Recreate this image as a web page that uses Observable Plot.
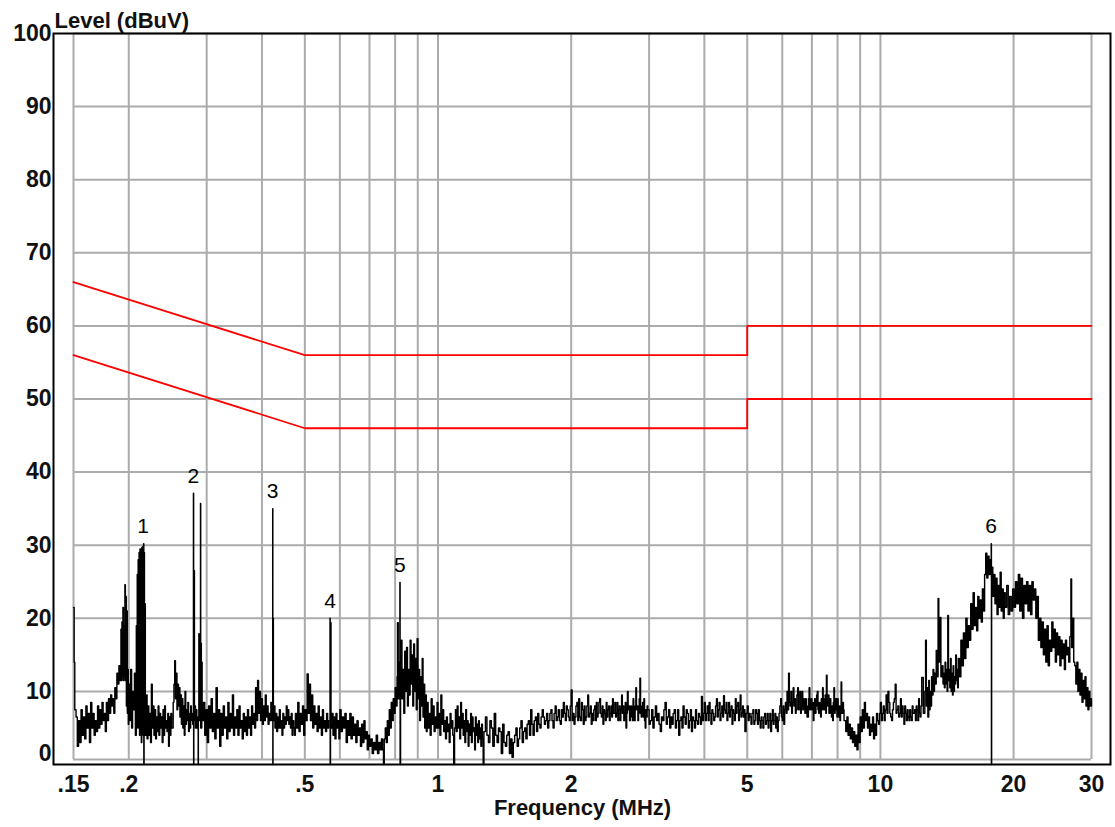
<!DOCTYPE html>
<html>
<head>
<meta charset="utf-8">
<script src="https://cdn.jsdelivr.net/npm/d3@7"></script>
<script src="https://cdn.jsdelivr.net/npm/@observablehq/plot@0.6"></script>
<style>
  html, body { margin: 0; padding: 0; background: #fff; overflow: hidden; }
  #chart { width: 1115px; height: 827px; }
</style>
</head>
<body>
<div id="chart"></div>
<script>
// ---- data ----
const yTitle = "Level (dBuV)";
const xTitle = "Frequency (MHz)";

const xTicks = [0.15, 0.2, 0.5, 1, 2, 5, 10, 20, 30];
const xTickLabels = [".15", ".2", ".5", "1", "2", "5", "10", "20", "30"];
const yTicks = [10, 20, 30, 40, 50, 60, 70, 80, 90, 100];
const yZeroTick = [0];
const gridFreqs = [0.15, 0.2, 0.3, 0.4, 0.5, 0.6, 0.7, 0.8, 0.9, 1, 2, 3, 4, 5, 6, 7, 8, 9, 10, 20, 30];
const gridLevels = [10, 20, 30, 40, 50, 60, 70, 80, 90, 100];
const gridFloor = 0.7;

// limit lines (quasi-peak and average)
const limitFreq = [0.15, 0.5, 5, 5, 30];
const qpLimit = [66, 56, 56, 60, 60];
const avLimit = [56, 46, 46, 50, 50];

// markers
const markerLabel = ["1", "2", "3", "4", "5", "6"];
const markerFreq = [0.2155, 0.2800, 0.4230, 0.5705, 0.8200, 17.80];
const markerLevel = [30.2, 37.1, 35.0, 20.0, 24.9, 30.2];

// measured trace [MHz, dBuV]
const trace = [
[0.1500,21.5],[0.1505,14],[0.1510,7.5],[0.1520,6.5],[0.1530,2.5],[0.1540,6],[0.1550,3],[0.1560,7.5],[0.1570,4],[0.1580,6.5],
[0.1590,3.5],[0.1600,8],[0.1610,5],[0.1620,7],[0.1630,3],[0.1640,8.5],[0.1650,5],[0.1660,7],[0.1670,4],[0.1680,6],
[0.1690,4.5],[0.1700,8],[0.1710,5],[0.1720,7.5],[0.1730,5.5],[0.1740,8.5],[0.1750,6],[0.1760,7],[0.1770,4.5],[0.1780,8.5],
[0.1790,6],[0.1800,9],[0.1810,7],[0.1820,9.5],[0.1830,8],[0.1840,9],[0.1850,7],[0.1860,10.5],[0.1870,9],[0.1880,12.5],
[0.1890,11],[0.1900,13.5],[0.1910,11.5],[0.1920,18.5],[0.1925,11.5],[0.1930,19.5],[0.1935,12],[0.1940,21.5],[0.1945,11.5],[0.1950,19],
[0.1955,12],[0.1960,24.6],[0.1965,11.5],[0.1970,23],[0.1975,8],[0.1980,21],[0.1985,7],[0.1990,13],[0.1995,5.5],
[0.2000,11],[0.2010,6],[0.2020,13],[0.2030,5],[0.2040,10],[0.2050,7.5],[0.2060,12.5],[0.2070,4],
[0.2080,19],[0.2085,6],[0.2090,26],[0.2095,5],[0.2100,28],[0.2105,8],[0.2110,29],[0.2115,4],[0.2120,29.5],[0.2125,9],
[0.2130,29.3],[0.2135,3],[0.2140,29.7],[0.2145,7],[0.2150,29.8],[0.2155,4],[0.2160,30.2],[0.2163,0],[0.2166,29],[0.2170,5],
[0.2175,22],[0.2180,4],[0.2190,9.5],[0.2200,3.5],[0.2210,8],[0.2220,4],[0.2230,7],[0.2240,3],[0.2250,11],[0.2260,5],
[0.2270,8],[0.2280,4],[0.2290,7.5],[0.2300,3.5],[0.2310,6.5],[0.2320,4.5],[0.2330,8],[0.2340,4],[0.2350,7],[0.2360,5],
[0.2370,6.5],[0.2380,3],[0.2390,7.5],[0.2400,4],[0.2410,8],[0.2420,5],[0.2430,6],[0.2440,4.5],[0.2450,7],[0.2460,2.5],
[0.2470,6.5],[0.2480,4],[0.2490,7],[0.2500,5],[0.2520,8.5],[0.2530,11],[0.2540,14.2],[0.2550,9],[0.2560,12.5],[0.2570,7.5],
[0.2580,11],[0.2590,8],[0.2600,10.5],[0.2610,6.5],[0.2620,9.5],[0.2630,5.5],[0.2640,9],[0.2650,5],[0.2660,8],[0.2670,4],
[0.2680,10],[0.2690,5.5],[0.2700,7.5],[0.2710,6],[0.2720,8.5],[0.2730,4.5],[0.2740,7],[0.2750,5],[0.2760,8],[0.2770,6],
[0.2780,7],[0.2790,5.5],[0.2800,37.1],[0.2803,0],[0.2806,7],[0.2810,26.5],[0.2815,6],[0.2820,8],[0.2830,5],[0.2840,7.5],
[0.2850,5],[0.2860,6.5],[0.2870,0],[0.2873,6],[0.2880,17.9],[0.2885,6],[0.2890,12],[0.2905,35.7],[0.2908,5],[0.2912,16.6],
[0.2918,5],[0.2925,14],[0.2930,6],[0.2950,8.5],[0.2970,4],[0.2990,7.5],[0.3010,3],[0.3030,8],[0.3050,5],[0.3070,9],
[0.3090,4.5],[0.3110,7],[0.3130,3.5],[0.3150,10.5],[0.3170,5],[0.3190,7.5],[0.3210,2.5],[0.3230,7],[0.3250,4],[0.3270,8],
[0.3290,5],[0.3310,6.5],[0.3330,3.5],[0.3350,8.5],[0.3370,4.5],[0.3390,7],[0.3410,5],[0.3430,9.5],[0.3450,4],[0.3470,6.5],
[0.3490,5],[0.3510,7.5],[0.3530,4],[0.3550,8],[0.3570,5],[0.3590,6],[0.3610,3.5],[0.3630,7],[0.3650,4.5],[0.3670,6.5],
[0.3690,4],[0.3710,7.5],[0.3730,5],[0.3750,6.5],[0.3770,4],[0.3790,8],[0.3810,5.5],[0.3830,7],[0.3850,5],[0.3870,10.5],
[0.3890,6],[0.3910,11.5],[0.3930,7],[0.3950,10],[0.3970,6],[0.3990,9],[0.4010,5.5],[0.4030,8],[0.4050,6],[0.4070,9.5],
[0.4090,6.5],[0.4110,8],[0.4130,5.5],[0.4150,7],[0.4170,6],[0.4190,8.5],[0.4210,6],[0.4230,35],[0.4233,0],[0.4237,20],
[0.4245,6],[0.4260,8],[0.4280,5],[0.4300,7],[0.4320,4.5],[0.4340,6.5],[0.4360,5],[0.4380,7.5],[0.4400,5],[0.4420,6],
[0.4440,4],[0.4460,7],[0.4480,5],[0.4500,6.5],[0.4520,5.5],[0.4540,8],[0.4560,6],[0.4580,7.5],[0.4600,5.5],[0.4620,6.5],
[0.4640,5],[0.4660,7],[0.4680,4],[0.4700,6],[0.4720,5],[0.4740,4],[0.4760,7],[0.4790,5],[0.4820,8.5],[0.4850,4.5],
[0.4880,7],[0.4910,5.5],[0.4940,8],[0.4970,4],[0.5000,7.5],[0.5030,6],[0.5060,12.4],[0.5090,7],[0.5120,11],[0.5150,6],
[0.5180,9.5],[0.5210,5],[0.5240,8],[0.5270,5.5],[0.5300,7],[0.5330,4.5],[0.5360,8],[0.5390,5],[0.5420,6.5],[0.5450,4],
[0.5480,7.5],[0.5510,5],[0.5540,6],[0.5570,4.5],[0.5600,7],[0.5630,5],[0.5660,6],[0.5700,20],[0.5705,0],[0.5715,19.4],
[0.5730,5],[0.5760,7],[0.5790,4],[0.5820,6.5],[0.5850,3.5],[0.5880,7],[0.5910,5],[0.5940,6],[0.5970,3.5],[0.6000,7.5],
[0.6040,4.5],[0.6080,6.5],[0.6120,5],[0.6160,7],[0.6200,3],[0.6240,6],[0.6280,4],[0.6320,7],[0.6360,3.5],[0.6400,6.5],
[0.6440,4],[0.6480,5.5],[0.6520,3],[0.6560,6],[0.6600,4],[0.6640,5],[0.6680,2.5],[0.6720,5.5],[0.6760,3],[0.6800,6],
[0.6840,3.5],[0.6880,4.5],[0.6920,2],[0.6960,4],[0.7000,2.5],[0.7050,3.5],[0.7100,1.5],[0.7150,3],[0.7200,2],[0.7250,4],
[0.7300,1.5],[0.7350,3],[0.7400,2],[0.7450,3.5],[0.7500,2],[0.7530,0],[0.7560,3.5],[0.7600,5],[0.7640,3],[0.7680,6],
[0.7720,4],[0.7760,7.5],[0.7800,5],[0.7840,8.5],[0.7880,6],[0.7920,9],[0.7960,7],[0.8000,10.5],[0.8040,8],[0.8080,12],
[0.8100,19.4],[0.8130,9],[0.8160,14],[0.8200,24.9],[0.8210,0],[0.8230,12],[0.8260,17],[0.8290,9],[0.8330,13],[0.8370,7],
[0.8410,15.5],[0.8450,10],[0.8490,16],[0.8530,8],[0.8570,13],[0.8610,9.5],[0.8650,17],[0.8690,11],[0.8730,15],[0.8770,8],
[0.8810,16.5],[0.8850,10],[0.8890,14.5],[0.8930,7.5],[0.8970,17.2],[0.9010,9],[0.9050,13],[0.9090,6],[0.9130,12],[0.9170,8],
[0.9210,14.5],[0.9250,6.5],[0.9290,11],[0.9330,5],[0.9370,9.5],[0.9410,4.5],[0.9450,8.5],[0.9500,5],[0.9550,7],[0.9600,4],
[0.9650,9],[0.9700,5.5],[0.9750,8],[0.9800,4.5],[0.9850,6.5],[0.9900,5],[0.9950,8.5],[1.0000,5],[1.0050,7],[1.0100,4],
[1.0150,9.5],[1.0200,5.5],[1.0250,7.5],[1.0300,4.5],[1.0350,6],[1.0400,3.5],[1.0450,6.5],[1.0500,4.5],[1.0550,5.5],[1.0600,3],
[1.0650,7],[1.0700,5],[1.0750,6],[1.0800,4],[1.0850,0],[1.0900,5],[1.0950,7.5],[1.1000,4.5],[1.1050,8],[1.1100,5],
[1.1150,6.5],[1.1200,3.5],[1.1250,8.5],[1.1300,5],[1.1350,7],[1.1400,4],[1.1450,6],[1.1500,3],[1.1550,7.5],[1.1600,4.5],
[1.1650,6],[1.1700,2.5],[1.1750,5.5],[1.1800,4],[1.1850,7],[1.1900,3],[1.1950,6.5],[1.2000,4.5],[1.2050,5],[1.2100,2],
[1.2150,6.5],[1.2200,4],[1.2250,5.5],[1.2300,3],[1.2350,6],[1.2400,3.5],[1.2450,5],[1.2500,2.5],[1.2550,5.5],[1.2600,3.5],
[1.2650,0],[1.2700,4.5],[1.2800,6.5],[1.2900,4],[1.3000,3],[1.3100,6],[1.3200,5],[1.3300,2.5],[1.3400,7],[1.3500,4],
[1.3600,3],[1.3700,5],[1.3800,4.5],[1.3900,1.5],[1.4000,5.5],[1.4100,3],[1.4200,2.5],[1.4300,4],[1.4400,4.5],[1.4500,1.5],
[1.4600,3.5],[1.4700,1],[1.4800,3],[1.4900,4],[1.5000,5],[1.5100,2.5],[1.5200,3.5],[1.5300,5],[1.5400,6],[1.5500,3],
[1.5600,4.5],[1.5700,5],[1.5800,3.5],[1.5900,5.5],[1.6000,6],[1.6100,4],[1.6200,7.5],[1.6300,5.5],[1.6400,4],[1.6500,6],
[1.6600,6.5],[1.6700,4.5],[1.6800,7],[1.6900,5.5],[1.7000,5],[1.7100,6.5],[1.7200,7.5],[1.7300,6.5],[1.7400,5.5],[1.7500,6],
[1.7600,7],[1.7700,5],[1.7800,6],[1.7900,7],[1.8000,7.5],[1.8100,6],[1.8200,5],[1.8300,7],[1.8400,8],[1.8500,6],
[1.8600,6.5],[1.8700,7.5],[1.8800,6],[1.8900,5.5],[1.9000,7.5],[1.9100,6.5],[1.9200,8.5],[1.9300,7],[1.9400,6],[1.9500,8],
[1.9600,7.5],[1.9700,6.5],[1.9800,6],[1.9900,8],
[2.00,10.2],[2.01,6],[2.02,7],[2.03,5.5],[2.04,6.5],[2.05,8],[2.06,8.5],[2.07,6],[2.08,9],[2.09,6.5],
[2.10,6],[2.11,8.5],[2.12,7.5],[2.13,5.5],[2.14,8],[2.15,6],[2.16,6.5],[2.17,8],[2.18,9.5],[2.19,6.5],
[2.20,7],[2.21,8],[2.22,5.5],[2.23,7],[2.24,6],[2.25,7.5],[2.26,8],[2.27,6],[2.28,8.5],[2.29,6.5],
[2.30,7],[2.31,8.5],[2.32,9],[2.33,7],[2.34,6.5],[2.35,8],[2.36,5.5],[2.37,7.5],[2.38,7],[2.39,6],
[2.40,8.5],[2.41,6.5],[2.42,7.5],[2.43,8],[2.44,6],[2.45,7],[2.46,8],[2.47,6.5],[2.48,9],[2.49,7],
[2.50,7],[2.51,8.5],[2.52,6.5],[2.53,7],[2.54,8.5],[2.55,6],[2.56,7.5],[2.57,8],[2.58,6],[2.59,7.5],
[2.60,9.5],[2.61,7],[2.62,8],[2.63,6],[2.64,7],[2.65,8.5],[2.66,5],[2.67,7],[2.68,10],[2.69,7.5],
[2.70,8],[2.71,6],[2.72,6.5],[2.73,8],[2.74,7.5],[2.75,6],[2.76,9],[2.77,7],[2.78,6],[2.79,8],
[2.80,10.5],[2.81,7.5],[2.82,8],[2.83,6],[2.84,7],[2.85,9],[2.86,11.8],[2.87,7],[2.88,6.5],[2.89,8],
[2.90,8.5],[2.91,6.5],[2.92,9],[2.93,6],[2.94,5],[2.95,7.5],[2.96,6.5],[2.97,8],[2.98,7.5],
[3.00,5.5],[3.02,6],[3.04,7.5],[3.06,5],[3.08,6.5],[3.10,8],[3.12,6],[3.14,7],[3.16,5.5],[3.18,4.5],
[3.20,6.5],[3.22,6],[3.24,7.5],[3.26,8.5],[3.28,5.5],[3.30,6.5],[3.32,7.5],[3.34,5],[3.36,6.5],[3.38,5.5],
[3.40,7],[3.42,7.5],[3.44,5],[3.46,6],[3.48,7.5],[3.50,4],[3.52,6],[3.54,6.5],[3.56,5],[3.58,8],
[3.60,6.5],[3.62,5.5],[3.64,7.5],[3.66,7],[3.68,5],[3.70,6],[3.72,7.5],[3.74,4.5],[3.76,6.5],[3.78,6],
[3.80,5],[3.82,7.5],[3.84,6],[3.86,5.5],[3.88,7],[3.90,6.5],[3.92,5.5],[3.94,9.3],[3.96,6],[3.98,7],
[4.00,8.5],[4.02,6],[4.04,7],[4.06,8],[4.08,6],[4.10,8.5],[4.12,7],[4.14,5.5],[4.16,7.5],[4.18,7],
[4.20,6],[4.22,6.5],[4.24,8],[4.26,9],[4.28,6.5],[4.30,7.5],[4.32,8.5],[4.34,6],[4.36,7],[4.38,8],
[4.40,6.5],[4.42,9.4],[4.44,7.5],[4.46,7],[4.48,8.5],[4.50,6],[4.52,7],[4.54,8.5],[4.56,6.5],[4.58,7.5],
[4.60,8],[4.62,5.5],[4.64,7.5],[4.66,7],[4.68,6],[4.70,9],[4.72,7],[4.74,8],[4.76,8.5],[4.78,6],
[4.80,7.5],[4.82,9.5],[4.84,6.5],[4.86,7],[4.88,8],[4.90,6.5],[4.92,7.5],[4.94,4.5],[4.97,7],
[5.000,8],[5.025,6],[5.050,7],[5.075,6.5],[5.100,5.5],[5.125,7],[5.150,7.5],[5.175,5.5],[5.200,6],[5.225,7.5],
[5.250,7],[5.275,5.5],[5.300,7.5],[5.325,6],[5.350,5],[5.375,6.5],[5.400,6],[5.425,5],[5.450,6.5],[5.475,7],
[5.500,5.5],[5.525,6],[5.550,7],[5.575,5],[5.600,6],[5.625,7],[5.650,4.5],[5.675,6],[5.700,7.5],[5.725,5.5],
[5.750,6],[5.775,7],[5.800,5],[5.825,6.5],[5.850,4.5],[5.875,6],[5.900,7],[5.925,8],[5.950,9],[5.975,6.5],
[6.000,6],[6.025,8],[6.050,5.5],[6.075,7.5],[6.100,8.5],[6.125,7],[6.150,10],[6.175,7.5],[6.200,12.5],[6.225,8.5],
[6.250,8],[6.275,10],[6.300,7],[6.325,8.5],[6.350,10.5],[6.375,8],[6.400,9],[6.425,7],[6.450,7.5],[6.475,9.5],
[6.500,10.5],[6.525,7.5],[6.550,8.5],[6.575,10],[6.600,7],[6.625,8],[6.650,10],[6.675,7.5],[6.700,9],[6.725,8],
[6.750,7],[6.775,9],[6.800,8],[6.825,6.5],[6.850,6.5],[6.875,9],[6.900,10.5],[6.925,7.5],[6.950,8.5],[6.975,9],
[7.000,7.5],[7.025,8.5],[7.050,6],[7.075,7.5],[7.100,9],[7.125,7],[7.150,8],[7.175,9.5],[7.200,10],[7.225,7.5],
[7.250,7],[7.275,8.5],[7.300,7.5],[7.325,6.5],[7.350,9],[7.375,7.5],[7.400,10.5],[7.425,8],[7.450,7.5],[7.475,9],
[7.500,9.5],[7.525,7],[7.550,12.2],[7.575,8.5],[7.600,8],[7.625,9.5],[7.650,7],[7.675,8],[7.700,9],[7.725,7],
[7.750,6.5],[7.775,8],[7.800,6],[7.825,8.5],[7.850,10.5],[7.875,7],[7.900,8.5],[7.925,9],[7.950,7.5],[7.975,6.5],
[8.000,9],[8.025,7.5],[8.050,6.5],[8.075,8],[8.100,6],[8.125,7.5],[8.150,11.3],[8.175,7],[8.200,7],[8.225,8.5],
[8.250,7.5],[8.275,6],[8.300,6],
[8.3500,4.5],[8.4000,6.5],[8.4500,4],[8.5000,5.5],[8.5500,3.5],[8.6000,5],[8.6500,3],[8.7000,4.5],[8.7500,2.5],[8.8000,4],
[8.8500,2],[8.9000,5.5],[8.9500,3],[9.0000,6.5],[9.0500,4.5],[9.1000,7.5],[9.1500,5],[9.2000,8.5],[9.2500,6],[9.3000,7],
[9.3500,5],[9.4000,6.5],[9.4500,4],[9.5000,5.5],[9.5500,4.5],[9.6000,6.5],[9.6500,3.5],[9.7000,5.5],[9.7500,4],[9.8000,7],
[9.85,6],[9.90,5.5],[9.95,7],[10.00,8.5],[10.05,6],[10.10,7],[10.15,8],[10.20,6],[10.25,7.5],[10.30,9.5],
[10.35,7],[10.40,10],[10.45,8.5],[10.50,7],[10.55,6.5],[10.60,6],[10.65,7.5],[10.70,8.5],[10.75,9],[10.80,11],
[10.85,7],[10.90,7.5],[10.95,8],[11.00,6.5],[11.05,7],[11.10,9],[11.15,6.5],[11.20,8],[11.25,7],[11.30,5.5],
[11.35,8],[11.40,7],[11.45,6],[11.50,7.5],[11.55,6.5],[11.60,6],[11.65,7.5],[11.70,6.5],[11.75,6],[11.80,8],
[11.85,7],[11.90,7],[11.95,7.5],[12.00,6],[12.05,8],[12.10,7.5],[12.15,6],[12.20,9],[12.25,7],[12.30,6.5],
[12.35,8],[12.400,11.9],[12.500,7],[12.600,10],[12.650,17],[12.700,8],[12.750,10.5],[12.800,6.5],[12.860,11.5],[12.900,7.5],
[12.950,10],[13.000,8],[13.050,12],[13.100,9.5],[13.150,13],[13.200,10],[13.250,12.5],[13.300,11],[13.370,15.6],[13.420,12],
[13.500,22.7],[13.550,14],[13.640,20.1],[13.700,12],[13.800,13.5],[13.850,11],[13.900,12.5],[13.950,10.5],[14.000,14],[14.050,11],
[14.100,13],[14.150,10],[14.200,20.4],[14.250,11.5],[14.300,13],[14.350,10.5],[14.400,14.5],[14.450,10],[14.500,12.5],[14.550,9.5],
[14.600,13.5],[14.650,10],[14.700,12],[14.750,11],[14.800,15],[14.850,11.5],[14.900,13],[14.950,10.5],[15.000,14.5],[15.100,12],
[15.200,17],[15.300,13.5],[15.400,18],[15.500,14.5],[15.600,20],[15.700,16],[15.800,19],[15.900,17],[16.000,22],[16.100,18.5],
[16.200,23.5],[16.300,19],[16.400,21.5],[16.500,18.3],[16.600,23],[16.700,20],[16.800,22.5],[16.900,19.5],[17.000,24],[17.100,21],
[17.200,26],[17.300,28.9],[17.400,25.5],[17.500,28.5],[17.600,26],[17.700,28],[17.790,27],[17.800,30.2],[17.820,0],[17.840,27],
[17.950,23],[18.050,26],[18.150,22],[18.250,25.5],[18.350,20.5],[18.450,24.5],[18.550,21.5],[18.650,26.3],[18.750,21],[18.850,24],
[18.950,20],[19.050,23.5],[19.150,21.5],[19.300,24.5],[19.450,20.5],[19.600,23],[19.750,21],[19.900,24],[20.050,21.5],[20.200,25],
[20.350,22],[20.500,26],[20.650,21],[20.800,25.5],[20.950,20],[21.100,24.5],[21.250,22],[21.400,25],[21.550,21],[21.700,24.5],
[21.850,20.5],[22.000,25],[22.150,22.5],[22.300,24],[22.450,20],[22.600,23],[22.750,17],[22.900,20],[23.050,16],[23.200,19.5],
[23.350,15],[23.500,18.5],[23.650,14],[23.800,19],[23.950,13.5],[24.100,17],[24.250,15.5],[24.400,19.5],[24.550,16],[24.700,18.5],
[24.850,14],[25.000,18],[25.150,15],[25.300,17.5],[25.450,13.5],[25.600,17],[25.750,14.5],[25.900,16.5],[26.050,13],[26.200,17],
[26.350,15],[26.500,16],[26.650,14],[26.800,17.5],[26.950,25.4],[27.050,16],[27.200,20],[27.350,14],[27.500,13.5],[27.650,11],
[27.800,14],[27.950,10],[28.100,13],[28.250,9.5],[28.400,12.5],[28.550,8.5],[28.700,11.5],[28.850,9],[29.000,12],[29.150,8],
[29.300,10.5],[29.450,7.5],[29.600,10],[29.750,8],[29.900,9],[30.000,8]
];

// ---- chart ----
const FONT = "'Liberation Sans', Arial, Helvetica, sans-serif";
const GRID = "#ababab";

const chart = Plot.plot({
  width: 1115,
  height: 827,
  marginLeft: 73,
  marginRight: 24,
  marginTop: 33,
  marginBottom: 63,
  x: {type: "log", domain: [0.15, 30], axis: null},
  y: {domain: [0, 100], axis: null},
  style: {background: "#fff", fontFamily: FONT, overflow: "visible"},
  marks: [
    // grid
    Plot.ruleX(gridFreqs, {x: d => d, y1: gridFloor, y2: 100, stroke: GRID, strokeWidth: 2}),
    Plot.ruleY([gridFloor, ...gridLevels], {y: d => d, x1: 0.15, x2: 30, stroke: GRID, strokeWidth: 2}),
    // limit lines
    Plot.line(limitFreq, {x: d => d, y: (d, i) => qpLimit[i], stroke: "#ff0000", strokeWidth: 1.8}),
    Plot.line(limitFreq, {x: d => d, y: (d, i) => avLimit[i], stroke: "#ff0000", strokeWidth: 1.8}),
    // trace
    Plot.line(trace, {x: d => d[0], y: d => d[1], curve: "step-after", stroke: "#000", strokeWidth: 1.4}),
    // outer frame
    Plot.frame({insetLeft: -20, insetRight: -19, stroke: "#000", strokeWidth: 2}),
    // markers
    Plot.text(markerLabel, {x: (d, i) => markerFreq[i], y: (d, i) => markerLevel[i], text: d => d,
      dy: -17, fontSize: 21, fill: "#000", fontFamily: FONT}),
    // x tick labels
    Plot.text(xTicks, {x: d => d, y: 0, text: (d, i) => xTickLabels[i], dy: 20,
      fontSize: 23, fontWeight: "bold", fill: "#111", fontFamily: FONT}),
    // y tick labels
    Plot.text(yTicks, {x: 0.15, y: d => d, text: d => String(d), dx: -22, textAnchor: "end",
      fontSize: 23, fontWeight: "bold", fill: "#111", fontFamily: FONT}),
    Plot.text(yZeroTick, {x: 0.15, y: d => d, text: d => String(d), dx: -22, dy: -11, textAnchor: "end",
      fontSize: 23, fontWeight: "bold", fill: "#111", fontFamily: FONT}),
    // axis titles
    Plot.text([yTitle], {frameAnchor: "top-left", text: d => d, dx: -19, dy: -6, lineAnchor: "bottom",
      textAnchor: "start", fontSize: 22, fontWeight: "bold", fill: "#111", fontFamily: FONT}),
    Plot.text([xTitle], {frameAnchor: "bottom", text: d => d, dy: 35, lineAnchor: "top",
      fontSize: 22, fontWeight: "bold", fill: "#111", fontFamily: FONT})
  ]
});

document.getElementById("chart").appendChild(chart);
</script>
</body>
</html>
